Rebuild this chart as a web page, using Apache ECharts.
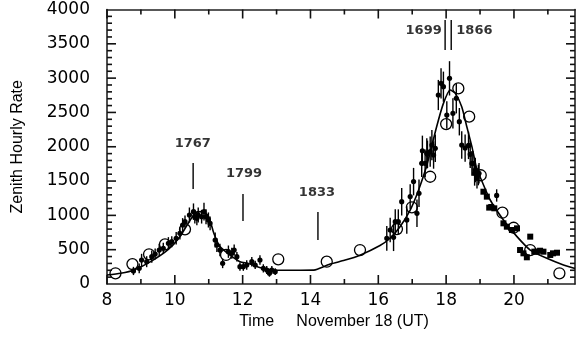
<!DOCTYPE html>
<html>
<head>
<meta charset="utf-8">
<script src="https://cdn.jsdelivr.net/npm/echarts@6/dist/echarts.min.js"></script>
<style>
  html, body { margin: 0; padding: 0; background: #fff; }
  #main { width: 580px; height: 338px; }
</style>
</head>
<body>
<div id="main"></div>
<script>
// model curve (time UT, ZHR)
var curveX = [8.0, 8.4, 8.8, 9.3, 9.8, 10.15, 10.45, 10.65, 10.83, 11.0, 11.15, 11.33, 11.63, 11.92, 12.17, 12.5, 12.9, 13.5, 14.1, 14.2, 14.58, 15.0, 15.46, 16.05, 16.35, 16.64, 16.94, 17.18, 17.43, 17.72, 17.92, 18.12, 18.27, 18.46, 18.61, 18.76, 18.91, 19.0, 19.3, 19.69, 20.09, 20.48, 20.97, 21.46, 21.8];
var curveY = [130, 156, 205, 330, 500, 690, 930, 1050, 1055, 980, 740, 545, 420, 325, 300, 240, 205, 200, 202, 215, 290, 345, 420, 560, 670, 835, 1078, 1360, 1730, 2292, 2632, 2827, 2778, 2584, 2292, 2001, 1661, 1563, 1224, 933, 690, 495, 374, 277, 225];

// open circles
var circlePoints = [[8.25,156],[8.75,290],[9.24,433],[9.71,578],[10.30,797],[11.51,423],[13.05,360],[14.48,325],[15.46,495],[16.55,800],[16.99,1118],[17.53,1563],[18.0,2330],[18.36,2850],[18.68,2438],[19.02,1585],[19.66,1039],[19.99,820],[20.48,495],[21.34,156]];

// filled dots with error bars [time, zhr, err]
var dotPoints = [
  [8.78,190,60],[8.95,228,70],[9.02,350,90],[9.17,325,80],[9.32,398,90],[9.42,437,80],[9.54,495,90],[9.66,520,80],[9.81,593,90],[9.91,617,80],
  [10.04,666,90],[10.15,738,90],[10.23,860,100],[10.30,908,90],[10.43,1005,110],[10.55,1054,120],[10.59,981,100],[10.65,957,100],[10.69,1005,110],[10.79,981,100],
  [10.86,1054,130],[10.92,981,110],[10.99,933,110],[11.04,884,100],[11.19,641,110],[11.24,568,100],[11.33,495,90],[11.41,301,70],[11.58,471,90],[11.68,447,80],
  [11.75,495,80],[11.83,398,70],[11.92,252,60],[12.02,252,60],[12.12,277,70],[12.27,325,70],[12.37,277,60],[12.51,350,70],[12.61,228,60],[12.71,204,60],
  [12.79,156,50],[12.86,204,60],[12.96,180,50],
  [16.25,666,180],[16.35,787,180],[16.45,680,200],[16.50,908,180],[16.59,908,180],[16.69,1199,200],[16.84,933,200],[16.94,1274,180],[17.04,1492,200],[17.14,1030,200],
  [17.20,1321,200],[17.28,1759,200],[17.30,1942,220],[17.38,1759,200],[17.43,1904,220],[17.45,1889,200],[17.53,1928,220],[17.58,2025,220],[17.63,1880,200],[17.68,1977,200],
  [17.77,2754,220],[17.85,2924,220],[17.92,2875,220],[18.02,2462,200],[18.10,2997,250],[18.20,2487,220],[18.30,2706,220],[18.39,2365,200],[18.46,2025,200],[18.56,1980,200],
  [18.66,2020,200],[18.71,1890,200],[18.76,1759,180],[18.79,1759,180],[18.84,1613,180],[18.86,1661,180],[18.91,1540,150],[18.95,1588,150],[18.97,1613,150],[19.49,1290,90]
];

// filled squares
var squarePoints = [[19.10,1345],[19.20,1273],[19.27,1113],[19.33,1122],[19.42,1103],[19.69,884],[19.79,835],[19.94,787],[20.09,811],[20.48,690],[20.18,495],[20.28,447],[20.38,389],[20.60,471],[20.67,471],[20.77,485],[20.87,471],[21.07,423],[21.15,447],[21.27,456]];

// year markers: [time, bottom, top]
var markerLines = [[10.54,1384,1763],[12.01,918,1311],[14.22,641,1049],[17.97,3410,3847],[18.15,3410,3847]];
var markerNames = ['1767', '1799', '1833', '1699', '1866'];
var markerTextX = [10.53, 12.04, 14.19, 17.87, 18.30];
var markerTextY = [2040, 1603, 1326, 3691, 3691];
var markerAlign = ['center', 'center', 'center', 'right', 'left'];

// tick positions
var xMajorTicks = [8, 10, 12, 14, 16, 18, 20];
var xMinorTicks = [9, 11, 13, 15, 17, 19, 21];
var yMajorTicks = [500, 1000, 1500, 2000, 2500, 3000, 3500];
var yMinorTicks = [100, 200, 300, 400, 600, 700, 800, 900, 1100, 1200, 1300, 1400, 1600, 1700, 1800, 1900,
  2100, 2200, 2300, 2400, 2600, 2700, 2800, 2900, 3100, 3200, 3300, 3400, 3600, 3700, 3800, 3900];

var X_MIN = 8, X_MAX = 21.8, Y_MIN = 0, Y_MAX = 4000;

var myChart = echarts.init(document.getElementById('main'));

var axisColor = '#222';
var tickFont = 'DejaVu Sans';

function xAxisOf(pos, labels) {
  return {
    type: 'value', position: pos, min: X_MIN, max: X_MAX, interval: 2,
    axisLine: { show: true, onZero: false, lineStyle: { color: axisColor, width: 1.6 } },
    axisTick: { show: false },
    axisLabel: {
      show: labels, margin: 8, color: '#000', fontSize: 17, fontFamily: tickFont,
      formatter: function (v) { return xMajorTicks.indexOf(v) >= 0 ? String(v) : ''; }
    },
    splitLine: { show: false }
  };
}

function yAxisOf(pos, labels) {
  return {
    type: 'value', position: pos, min: Y_MIN, max: Y_MAX, interval: 500,
    axisLine: { show: true, onZero: false, lineStyle: { color: axisColor, width: 1.6 } },
    axisTick: { show: false },
    axisLabel: {
      show: labels, margin: 17, color: '#000', fontSize: 17, fontFamily: tickFont,
      formatter: function (v) { return String(v); }
    },
    splitLine: { show: false }
  };
}

var xBottom = xAxisOf('bottom', true);
xBottom.name = 'Time     November 18 (UT)';
xBottom.nameLocation = 'middle';
xBottom.nameGap = 25;
xBottom.nameTextStyle = { color: '#000', fontSize: 16, fontFamily: 'Liberation Sans', padding: [0, 14, 0, 0] };

var yLeft = yAxisOf('left', true);
yLeft.name = 'Zenith Hourly Rate';
yLeft.nameLocation = 'middle';
yLeft.nameGap = 81;
yLeft.nameTextStyle = { color: '#000', fontSize: 16, fontFamily: 'Liberation Sans' };

myChart.setOption({
  animation: false,
  grid: { left: 107, right: 5, top: 9.5, bottom: 54, containLabel: false },
  xAxis: [xBottom, xAxisOf('top', false)],
  yAxis: [yLeft, yAxisOf('right', false)],
  series: [
    {
      type: 'line', xAxisIndex: 0, yAxisIndex: 0,
      data: curveX.map(function (x, i) { return [x, curveY[i]]; }),
      smooth: 0.2, showSymbol: false, symbol: 'none',
      lineStyle: { color: '#000', width: 1.6 }
    },
    {
      type: 'custom', xAxisIndex: 0, yAxisIndex: 0,
      data: dotPoints,
      encode: { x: 0, y: 1 },
      renderItem: function (params, api) {
        var x = api.value(0), y = api.value(1), e = api.value(2);
        var c = api.coord([x, y]);
        var t = api.coord([x, y + e]);
        var b = api.coord([x, y - e]);
        return {
          type: 'group',
          children: [
            { type: 'line', shape: { x1: c[0], y1: t[1], x2: c[0], y2: b[1] }, style: { stroke: '#000', lineWidth: 1.4 } },
            { type: 'circle', shape: { cx: c[0], cy: c[1], r: 2.6 }, style: { fill: '#000' } }
          ]
        };
      }
    },
    {
      type: 'scatter', xAxisIndex: 0, yAxisIndex: 0,
      data: squarePoints, symbol: 'rect', symbolSize: 6,
      itemStyle: { color: '#000', opacity: 1 }
    },
    {
      type: 'scatter', xAxisIndex: 0, yAxisIndex: 0,
      data: circlePoints, symbol: 'circle', symbolSize: 11,
      itemStyle: { color: 'rgba(0,0,0,0)', borderColor: '#000', borderWidth: 1.3, opacity: 1 }
    },
    {
      type: 'custom', xAxisIndex: 0, yAxisIndex: 0,
      data: markerLines,
      encode: { x: 0, y: [1, 2] },
      renderItem: function (params, api) {
        var a = api.coord([api.value(0), api.value(1)]);
        var b = api.coord([api.value(0), api.value(2)]);
        return { type: 'line', shape: { x1: a[0], y1: a[1], x2: b[0], y2: b[1] }, style: { stroke: '#000', lineWidth: 1.4 } };
      }
    },
    {
      type: 'scatter', xAxisIndex: 0, yAxisIndex: 0,
      symbolSize: 0, silent: true,
      data: markerNames.map(function (n, i) {
        return {
          name: n, value: [markerTextX[i], markerTextY[i]],
          label: { align: markerAlign[i] }
        };
      }),
      label: {
        show: true, position: 'inside', formatter: '{b}',
        color: '#000', fontSize: 13, fontWeight: 'bold', fontFamily: 'DejaVu Sans'
      }
    }
  ]
});

// inward ticks on all four sides, placed through the chart's own scales
var tickEls = [];
function tick(x1, y1, x2, y2) {
  tickEls.push({ type: 'line', silent: true, z: 10, shape: { x1: x1, y1: y1, x2: x2, y2: y2 }, style: { stroke: '#111', lineWidth: 1.6 } });
}
function addXTicks(ticks, len) {
  ticks.forEach(function (v) {
    var b = myChart.convertToPixel({ gridIndex: 0 }, [v, Y_MIN]);
    var t = myChart.convertToPixel({ gridIndex: 0 }, [v, Y_MAX]);
    tick(b[0], b[1], b[0], b[1] - len);
    tick(t[0], t[1], t[0], t[1] + len);
  });
}
function addYTicks(ticks, len) {
  ticks.forEach(function (v) {
    var l = myChart.convertToPixel({ gridIndex: 0 }, [X_MIN, v]);
    var r = myChart.convertToPixel({ gridIndex: 0 }, [X_MAX, v]);
    tick(l[0], l[1], l[0] + len, l[1]);
    tick(r[0], r[1], r[0] - len, r[1]);
  });
}
addXTicks(xMajorTicks, 9);
addXTicks(xMinorTicks, 5);
addYTicks(yMajorTicks, 9);
addYTicks(yMinorTicks, 5);
myChart.setOption({ graphic: { elements: tickEls } });
</script>
</body>
</html>
